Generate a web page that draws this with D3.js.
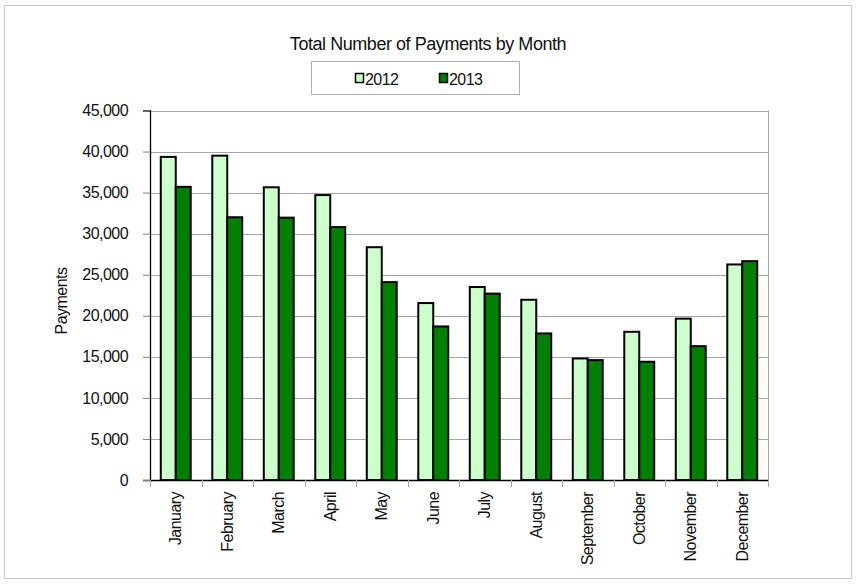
<!DOCTYPE html>
<html>
<head>
<meta charset="utf-8">
<script src="https://cdn.jsdelivr.net/npm/d3@7"></script>
<style>
  body { margin: 0; background: #fff; }
  svg { display: block; font-family: "Liberation Sans", Arial, sans-serif; }
</style>
</head>
<body>
<svg id="chart" width="856" height="584"></svg>
<script>
const months = ['January', 'February', 'March', 'April', 'May', 'June',
    'July', 'August', 'September', 'October', 'November', 'December'];
const series = ['2012', '2013'];
const values2012 = [39350, 39500, 35650, 34700, 28350, 21550, 23500, 21950, 14800, 18050, 19650, 26250];
const values2013 = [35700, 32000, 31950, 30800, 24100, 18700, 22700, 17850, 14600, 14400, 16300, 26650];
const yTicks = [0, 5000, 10000, 15000, 20000, 25000, 30000, 35000, 40000, 45000];
const colors = { '2012': '#ccffcc', '2013': '#008000' };

const svg = d3.select('#chart');

// condensed-looking text like the original
function labelStyle(sel, size) {
    sel.attr('font-size', size)
        .attr('fill', '#111')
        .attr('letter-spacing', -0.55);
}

// outer frame
svg.append('rect')
    .attr('x', 4.5).attr('y', 5.5)
    .attr('width', 847).attr('height', 573)
    .attr('fill', '#fff')
    .attr('stroke', '#c8c8c8');

const plot = { left: 150, top: 110.5, right: 768, bottom: 480 };

const x = d3.scaleBand()
    .domain(months)
    .range([plot.left, plot.right]);

const x1 = d3.scaleBand()
    .domain(series)
    .range([0, x.bandwidth()])
    .paddingInner(0)
    .paddingOuter(0.72);

const y = d3.scaleLinear()
    .domain([0, 45000])
    .range([plot.bottom, plot.top]);

// gridlines
svg.append('g')
    .selectAll('line')
    .data(yTicks.filter(d => d > 0))
    .enter()
    .append('line')
    .attr('x1', plot.left)
    .attr('x2', plot.right)
    .attr('y1', d => Math.round(y(d)) + 0.5)
    .attr('y2', d => Math.round(y(d)) + 0.5)
    .attr('stroke', '#a6a6a6');

// right border of plot
svg.append('line')
    .attr('x1', plot.right + 0.5).attr('x2', plot.right + 0.5)
    .attr('y1', plot.top).attr('y2', plot.bottom)
    .attr('stroke', '#a6a6a6');

// bars
const rows = months.map((m, i) => ({ month: m, '2012': values2012[i], '2013': values2013[i] }));

svg.append('g')
    .selectAll('g')
    .data(rows)
    .enter()
    .append('g')
    .attr('transform', d => `translate(${x(d.month)},0)`)
    .selectAll('rect')
    .data(d => series.map(s => ({ key: s, value: d[s] })))
    .enter()
    .append('rect')
    .attr('x', d => x1(d.key))
    .attr('y', d => y(d.value))
    .attr('width', x1.bandwidth())
    .attr('height', d => plot.bottom - y(d.value))
    .attr('fill', d => colors[d.key])
    .attr('stroke', '#000')
    .attr('stroke-width', 2);

// y axis
const yAxis = d3.axisLeft(y)
    .tickValues(yTicks)
    .tickSize(7)
    .tickPadding(15)
    .tickFormat(d3.format(','));

const gy = svg.append('g')
    .attr('transform', `translate(${plot.left},0)`)
    .call(yAxis);
gy.select('.domain').attr('stroke', '#000').attr('stroke-width', 1.3);
gy.selectAll('.tick line').attr('stroke', '#808080');
gy.selectAll('.tick text').call(labelStyle, 16);

// x axis
const xAxis = d3.axisBottom(x).tickSize(0).tickPadding(10);
const gx = svg.append('g')
    .attr('transform', `translate(0,${plot.bottom})`)
    .call(xAxis);
gx.select('.domain').attr('stroke', '#000').attr('stroke-width', 1.3);
gx.selectAll('.tick text')
    .call(labelStyle, 16)
    .attr('text-anchor', 'end')
    .attr('dominant-baseline', 'central')
    .attr('transform', 'rotate(-90)')
    .attr('x', -12)
    .attr('y', 0)
    .attr('dy', null);

// category boundary ticks
gx.append('g')
    .selectAll('line')
    .data(months.map(m => x(m)).concat([plot.right]))
    .enter()
    .append('line')
    .attr('x1', d => Math.round(d) + 0.5)
    .attr('x2', d => Math.round(d) + 0.5)
    .attr('y1', 0)
    .attr('y2', 7)
    .attr('stroke', '#a6a6a6');

// y axis title
svg.append('text')
    .attr('transform', 'translate(67,301) rotate(-90)')
    .attr('text-anchor', 'middle')
    .call(labelStyle, 16)
    .text('Payments');

// title
svg.append('text')
    .attr('x', 428)
    .attr('y', 50)
    .attr('text-anchor', 'middle')
    .call(labelStyle, 18)
    .attr('letter-spacing', -0.45)
    .text('Total Number of Payments by Month');

// legend
const legend = svg.append('g');
legend.append('rect')
    .attr('x', 311.5).attr('y', 61.5)
    .attr('width', 208).attr('height', 33)
    .attr('fill', '#fff')
    .attr('stroke', '#b0b0b0');

const legendX = { '2012': 355, '2013': 439 };
const items = legend.selectAll('g.item')
    .data(series)
    .enter()
    .append('g')
    .attr('class', 'item')
    .attr('transform', d => `translate(${legendX[d]},78)`);
items.append('rect')
    .attr('x', 0.5).attr('y', -4.5)
    .attr('width', 8).attr('height', 9)
    .attr('fill', d => colors[d])
    .attr('stroke', '#000')
    .attr('stroke-width', 1.5);
items.append('text')
    .attr('x', 10)
    .attr('y', 1)
    .attr('dominant-baseline', 'central')
    .call(labelStyle, 16)
    .text(d => d);
</script>
</body>
</html>
